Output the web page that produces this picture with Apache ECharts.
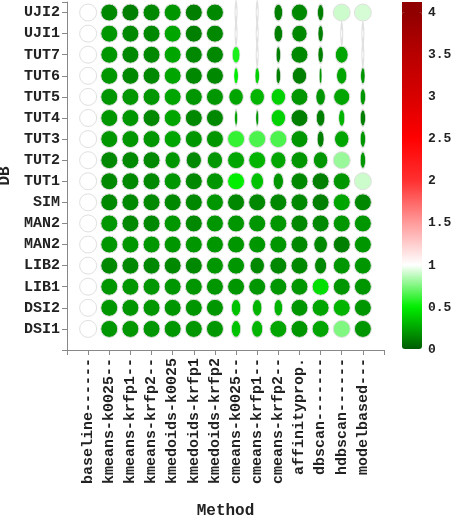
<!DOCTYPE html>
<html>
<head>
<meta charset="utf-8">
<script src="https://cdn.jsdelivr.net/npm/echarts@6/dist/echarts.min.js"></script>
<style>html,body{margin:0;padding:0;background:#fff;}#main{width:454px;height:518px;}</style>
</head>
<body>
<div id="main"></div>
<script>
var methods = ['baseline------', 'kmeans-k0025--', 'kmeans-krfp1--', 'kmeans-krfp2--', 'kmedoids-k0025', 'kmedoids-krfp1', 'kmedoids-krfp2',
    'cmeans-k0025--', 'cmeans-krfp1--', 'cmeans-krfp2--', 'affinityprop.', 'dbscan-------', 'hdbscan------', 'modelbased---'];
var dbs = ['UJI2', 'UJI1', 'TUT7', 'TUT6', 'TUT5', 'TUT4', 'TUT3', 'TUT2', 'TUT1', 'SIM', 'MAN2', 'MAN2', 'LIB2', 'LIB1', 'DSI2', 'DSI1'];
// colour value per cell (rows top to bottom)
var values = [
    [1, .15, .12, .15, .2, .12, .15, 1, 1, .12, .15, .12, .9, .92],
    [1, .2, .15, .15, .25, .12, .15, 1, 1, .12, .15, .12, 1, 1],
    [1, .2, .15, .15, .25, .15, .15, .55, 1, .12, .15, .12, .25, 1],
    [1, .2, .15, .15, .25, .15, .15, .5, .4, .12, .12, .2, .25, .2],
    [1, .2, .2, .2, .25, .2, .2, .25, .3, .4, .2, .2, .25, .2],
    [1, .2, .2, .15, .25, .15, .15, .25, .2, .4, .12, .12, .3, .12],
    [1, .2, .2, .2, .25, .2, .2, .6, .65, .65, .2, .12, .25, .2],
    [1, .15, .15, .15, .2, .15, .2, .25, .3, .25, .2, .2, .8, .2],
    [1, .15, .15, .15, .2, .15, .2, .5, .35, .2, .15, .12, .2, .9],
    [1, .15, .15, .15, .15, .15, .2, .15, .15, .15, .15, .12, .25, .15],
    [1, .2, .15, .15, .2, .15, .2, .2, .2, .2, .15, .15, .2, .2],
    [1, .2, .2, .2, .2, .2, .2, .2, .2, .2, .15, .15, .12, .2],
    [1, .15, .15, .15, .15, .15, .2, .2, .15, .15, .15, .15, .2, .2],
    [1, .2, .2, .2, .2, .2, .2, .2, .2, .2, .2, .45, .2, .2],
    [1, .2, .2, .2, .2, .2, .2, .35, .3, .3, .2, .25, .3, .2],
    [1, .2, .2, .2, .2, .2, .2, .35, .3, .25, .2, .25, .75, .2]
];
// relative ellipse width per cell
var widths = [
    [1, 1, 1, 1, 1, 1, 1, .05, .05, .5, .95, .35, 1, 1],
    [1, 1, 1, 1, 1, 1, 1, .05, .05, .5, .9, .3, .05, .05],
    [1, 1, 1, 1, 1, 1, 1, .45, .05, .25, 1, .3, .75, .05],
    [1, 1, 1, 1, 1, 1, 1, .25, .25, .25, .85, .15, .6, .25],
    [1, 1, 1, 1, 1, 1, 1, .85, .85, .85, 1, .55, .95, .3],
    [1, 1, 1, 1, 1, 1, 1, .15, .15, .85, 1, .5, .35, .3],
    [1, 1, 1, 1, 1, 1, 1, 1, 1, 1, 1, .4, .85, .3],
    [1, 1, 1, 1, .9, .9, .9, 1, 1, .9, 1, .85, 1, .3],
    [1, 1, 1, 1, 1, 1, 1, 1, .75, .6, 1, 1, 1, 1],
    [1, 1, 1, 1, 1, 1, 1, 1, 1, 1, 1, 1, 1, 1],
    [1, 1, 1, 1, 1, 1, 1, 1, 1, 1, 1, 1, 1, 1],
    [1, 1, 1, 1, 1, 1, 1, 1, 1, 1, 1, .8, 1, 1],
    [1, 1, 1, 1, 1, 1, 1, 1, .85, 1, 1, .7, 1, 1],
    [1, 1, 1, 1, 1, 1, 1, 1, 1, 1, 1, 1, 1, 1],
    [1, 1, 1, 1, 1, 1, 1, .55, .55, .5, 1, 1, 1, 1],
    [1, 1, 1, 1, 1, 1, 1, .55, .65, 1, 1, 1, 1, 1]
];
var barTicks = [0, 0.5, 1, 1.5, 2, 2.5, 3, 3.5, 4];

var data = [];
for (var r = 0; r < dbs.length; r++) {
    for (var c = 0; c < methods.length; c++) {
        data.push([c + 1, dbs.length - r, values[r][c], widths[r][c]]);
    }
}
var font = '"Liberation Mono", "DejaVu Sans Mono", monospace';
var myChart = echarts.init(document.getElementById('main'));
var option = {
    backgroundColor: '#fff',
    grid: { left: 67, top: 2, width: 317, height: 348, outerBoundsMode: 'none', containLabel: false },
    xAxis: {
        type: 'value', min: 0, max: 15, interval: 1,
        name: 'Method', nameLocation: 'middle', nameGap: 153,
        nameTextStyle: { fontFamily: font, fontWeight: 'bold', fontSize: 16, color: '#222' },
        axisLine: { lineStyle: { color: '#888' } },
        axisTick: { lineStyle: { color: '#888' }, length: 5 },
        splitLine: { show: false },
        axisLabel: {
            rotate: 90, fontFamily: font, fontWeight: 'bold', fontSize: 15, color: '#222', margin: 8,
            formatter: function (v) { return methods[v - 1] || ''; }
        }
    },
    yAxis: {
        type: 'value', min: 0, max: 16.5, interval: 1,
        name: 'DB', nameLocation: 'middle', nameGap: 52, nameRotate: 90,
        nameTextStyle: { fontFamily: font, fontWeight: 'bold', fontSize: 16, color: '#222' },
        axisLine: { lineStyle: { color: '#888' } },
        axisTick: { lineStyle: { color: '#888' }, length: 5 },
        splitLine: { show: false },
        axisLabel: {
            fontFamily: font, fontWeight: 'bold', fontSize: 15, color: '#222', margin: 7,
            formatter: function (v) { return dbs[dbs.length - v] || ''; }
        }
    },
    visualMap: {
        type: 'continuous', min: 0, max: 4, dimension: 2, calculable: false,
        right: 17, top: -3, itemWidth: 20, itemHeight: 337, text: null, showLabel: false,
        inRange: { color: ['#005c00', '#00ee00', '#ffffff', '#ff9a9a', '#ff3030', '#ff0000', '#d80000', '#b80000', '#900000'] }
    },
    series: [{
        type: 'scatter',
        data: data,
        symbol: 'circle',
        symbolSize: function (d) { return [Math.max(2, 17 * d[3]), 17]; },
        itemStyle: { borderColor: '#e0e0e0', borderWidth: 1, opacity: 1 }
    }],
    graphic: [{
        type: 'rect', left: 402, top: 2, shape: { width: 20, height: 12 }, style: { fill: '#900000' }
    }].concat(barTicks.map(function (t) {
        return {
            type: 'text', left: 428, top: 350 - t * 84.2 - 7,
            style: { text: String(t), font: 'bold 13px ' + font, fill: '#222' }
        };
    }))
};
myChart.setOption(option);
</script>
</body>
</html>
